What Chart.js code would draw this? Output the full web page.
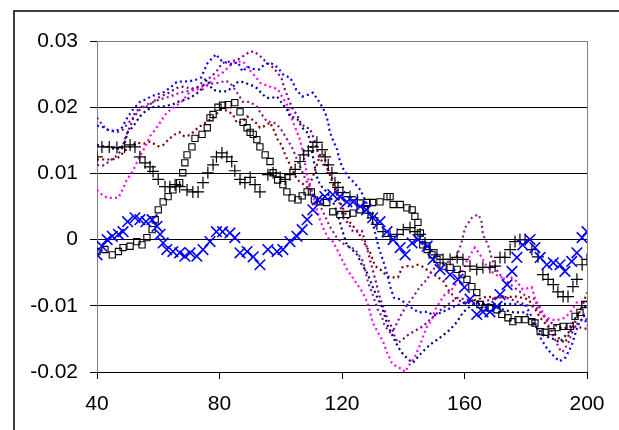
<!DOCTYPE html>
<html>
<head>
<meta charset="utf-8">
<script src="https://cdn.jsdelivr.net/npm/chart.js@4.4.0/dist/chart.umd.min.js"></script>
<style>
  html, body { margin: 0; padding: 0; background: #fff; }
  #wrap { width: 619px; height: 430px; }
</style>
</head>
<body>
<div id="wrap"><canvas id="chart" width="619" height="430"></canvas></div>
<script>
// axis ticks
const xTicks = [40, 80, 120, 160, 200];
const yTicks = [-0.02, -0.01, 0, 0.01, 0.02, 0.03];

// blue X markers
const crossX = [40,41.6,43.3,45,47,48.5,50,52.4,54,56,58,59.6,60.6,61.6,62.8,64.8,67,68.7,70.4,72.6,74.6,76.9,79,81,83.4,85,86.7,89,91,93.2,95.8,98.8,100.7,103,105.3,107,108.6,110.5,112,114.4,117,119.3,121.6,123.6,126,128,130,132.4,134.7,136.7,139,140.6,142.9,144.8,147.8,149.7,152,155.3,157.9,160,161.8,164,166,168.3,170.6,171.6,173.9,175.5,177.1,179,181.4,183,184.7,186.9,189,191.2,192.8,195,196.7,198.4,200];
const crossY = [-0.0023,-0.0010,0.0000,0.0005,0.0008,0.0012,0.0027,0.0033,0.0030,0.0027,0.0030,0.0020,0.0008,-0.0005,-0.0015,-0.0018,-0.0020,-0.0025,-0.0020,-0.0025,-0.0015,-0.0003,0.0012,0.0012,0.0010,0.0003,-0.0020,-0.0018,-0.0026,-0.0038,-0.0015,-0.0018,-0.0015,-0.0003,0.0005,0.0015,0.0030,0.0045,0.0060,0.0065,0.0068,0.0065,0.0057,0.0057,0.0050,0.0045,0.0033,0.0027,0.0012,0.0000,-0.0012,-0.0023,-0.0005,0.0000,-0.0010,-0.0030,-0.0045,-0.0053,-0.0060,-0.0072,-0.0090,-0.0113,-0.0109,-0.0109,-0.0101,-0.0083,-0.0068,-0.0048,-0.0027,-0.0008,0.0000,-0.0012,-0.0027,-0.0038,-0.0035,-0.0038,-0.0048,-0.0033,-0.0020,0.0003,0.0012];

// black plus markers
const plusX = [40,41.6,44,46.5,49,50.8,52.4,54,55.7,57.3,58.3,60,62.2,63.8,65.5,67,69.4,71.3,73,74.6,76.2,77.9,79,80.8,82.4,84,85,86.7,88.3,90,91.6,93.2,95.8,97.5,99.8,101.4,103,104.7,106.3,107.5,109,110.5,111.8,113.5,114.5,115.5,116.7,117.7,118.7,120.3,122.6,125,126.9,128.5,130,131.4,133.4,135.7,138,140,142.2,143.8,145.5,147.1,148.7,151,153,155.3,157.6,159.5,161.8,164,166,168.3,170,171.6,173.2,174.9,176.5,178.1,179.8,182,184,185.6,187.3,189,190.5,192.2,193.8,195.4,196.7,198.4,200];
const plusY = [0.0125,0.0140,0.0140,0.0139,0.0140,0.0143,0.0140,0.0125,0.0116,0.0110,0.0103,0.0091,0.0080,0.0080,0.0083,0.0080,0.0075,0.0072,0.0072,0.0086,0.0101,0.0113,0.0125,0.0131,0.0125,0.0118,0.0104,0.0091,0.0086,0.0094,0.0083,0.0072,0.0098,0.0101,0.0094,0.0091,0.0098,0.0106,0.0118,0.0128,0.0134,0.0140,0.0147,0.0136,0.0125,0.0113,0.0101,0.0086,0.0079,0.0071,0.0065,0.0060,0.0050,0.0040,0.0033,0.0023,0.0012,0.0005,0.0008,0.0015,0.0018,0.0012,0.0008,-0.0005,-0.0015,-0.0023,-0.0030,-0.0030,-0.0027,-0.0030,-0.0040,-0.0045,-0.0042,-0.0042,-0.0040,-0.0027,-0.0027,-0.0015,-0.0003,0.0000,0.0000,-0.0015,-0.0026,-0.0053,-0.0060,-0.0068,-0.0079,-0.0086,-0.0086,-0.0071,-0.0060,-0.0038,-0.0030];

// black open squares
const squareX = [40,42.6,45,47,48.5,50.8,53,54.7,56.3,58,59,60,61.6,63.2,64.8,67,68,68.7,69.4,71,72,74.3,76,76.9,77.9,79.5,81,82.8,85,86.7,87.7,89,90,91,92.2,93.2,94.9,96.5,97.5,99,100.7,102,103.7,105.6,107,108.6,110,111,112.8,115,117,119.3,121.6,123.6,125.9,128.2,130,132.4,134.7,135.7,136.7,139,141.2,142.9,143.8,144.8,145.6,146.4,147.8,149.4,151,153,155.3,157.6,159.2,160.8,162.4,164,165,166.7,168.3,170.6,172.2,174.2,175.8,177.5,179.8,182,183,184.7,186.3,188.6,190.2,192.2,194.5,196.1,197.7,199.3];
const squareY = [-0.0018,-0.0015,-0.0023,-0.0018,-0.0012,-0.0010,-0.0003,-0.0008,0.0003,0.0015,0.0030,0.0045,0.0057,0.0065,0.0075,0.0086,0.0101,0.0116,0.0128,0.0140,0.0153,0.0159,0.0169,0.0184,0.0189,0.0200,0.0203,0.0204,0.0207,0.0193,0.0177,0.0169,0.0162,0.0159,0.0151,0.0140,0.0128,0.0118,0.0101,0.0090,0.0083,0.0072,0.0063,0.0060,0.0066,0.0072,0.0072,0.0060,0.0057,0.0056,0.0042,0.0038,0.0038,0.0040,0.0045,0.0056,0.0056,0.0057,0.0065,0.0065,0.0053,0.0053,0.0048,0.0045,0.0035,0.0026,0.0010,-0.0008,-0.0015,-0.0023,-0.0030,-0.0040,-0.0042,-0.0045,-0.0053,-0.0060,-0.0071,-0.0080,-0.0098,-0.0103,-0.0103,-0.0106,-0.0113,-0.0118,-0.0124,-0.0121,-0.0121,-0.0124,-0.0126,-0.0139,-0.0140,-0.0139,-0.0133,-0.0131,-0.0131,-0.0116,-0.0110,-0.0098];

// small dot series
const blueX = [40,42,44,46,48,50,52,54,56,58,60,62,64,66,68,70,72,74,76,78,79,80,82,84,86,87.5,89,91,93,95,97,99,101,103,104,105,107,109,110.5,112,113,114.5,115.5,116,117,118.4,119,120,122,124,126,128,130,132,134,136,137,139,142,145,148,150,153,156,160,164,168,172,176,180,183,185,187,189,191,193,195,197,199,200];
const blueY = [0.0172,0.0170,0.0165,0.0164,0.0168,0.0185,0.0198,0.0208,0.0212,0.0217,0.0220,0.0223,0.0230,0.0238,0.0239,0.0239,0.0241,0.0245,0.0266,0.0276,0.0280,0.0272,0.0268,0.0265,0.0268,0.0254,0.0261,0.0258,0.0257,0.0266,0.0266,0.0260,0.0248,0.0245,0.0237,0.0227,0.0216,0.0219,0.0222,0.0212,0.0205,0.0192,0.0177,0.0163,0.0151,0.0136,0.0124,0.0110,0.0095,0.0086,0.0075,0.0055,0.0025,-0.0012,-0.0040,-0.0075,-0.0088,-0.0090,-0.0101,-0.0110,-0.0109,-0.0115,-0.0109,-0.0102,-0.0095,-0.0097,-0.0098,-0.0097,-0.0097,-0.0100,-0.0125,-0.0150,-0.0165,-0.0175,-0.0184,-0.0178,-0.0160,-0.0130,-0.0115,-0.0130];

const navyX = [40,42,44,46,48,49,50,51.8,54,56.3,59,61.6,64.5,67,70.4,73.6,75.9,77.6,79.5,82.4,84.4,85.5,87,90,91.6,92.6,93.9,95.5,97,98.8,100.7,102,103,104.7,105.6,107,108.6,109.5,110.5,111.8,112.8,115,117,118.5,120,121.6,123.3,125,126.5,128.2,130,131.4,133,134,135,136.7,138.3,139.6,141.6,143.2,145,146.4,148.7,152,155.3,157.6,159.5,161.8,164,168,172,176,180,183,186,189,191,194,196,198,200];
const navyY = [0.0143,0.0141,0.0140,0.0136,0.0139,0.0146,0.0162,0.0171,0.0186,0.0196,0.0201,0.0201,0.0204,0.0209,0.0214,0.0224,0.0242,0.0227,0.0224,0.0224,0.0231,0.0237,0.0239,0.0234,0.0231,0.0227,0.0220,0.0214,0.0214,0.0216,0.0204,0.0197,0.0186,0.0184,0.0181,0.0169,0.0162,0.0151,0.0125,0.0095,0.0083,0.0072,0.0058,0.0040,0.0015,-0.0008,-0.0015,-0.0023,-0.0038,-0.0050,-0.0071,-0.0086,-0.0101,-0.0116,-0.0131,-0.0147,-0.0162,-0.0171,-0.0181,-0.0186,-0.0176,-0.0169,-0.0159,-0.0148,-0.0136,-0.0124,-0.0110,-0.0101,-0.0095,-0.0098,-0.0105,-0.0110,-0.0110,-0.0130,-0.0145,-0.0150,-0.0155,-0.0140,-0.0120,-0.0105,-0.0100];

const magentaX = [40,41.6,43.3,45,46.9,48,49.8,51.4,53,54.5,55.7,57.3,59,60.6,62.8,65.5,67.8,69.7,72,74.6,76.9,79,81,82.8,84.4,86,87.7,89,90.6,92,93.2,94.9,96.5,99.1,100.4,102,103,103.7,105,106.3,107.5,108.6,110,111,112.8,113.8,115.4,117,118.4,120,121.6,123.3,125,126.5,128.2,129.2,130,131.7,133.4,135,136.3,138,139.6,140.6,141.6,143.8,145.5,146.4,147.8,149.4,150.4,152,153.6,155.3,157,159,161,163.4,165,167,169.3,171.6,174.9,177,179,182,183.7,185.6,188,190,192.8,194.5,196.7,200];
const magentaY = [0.0075,0.0068,0.0063,0.0063,0.0063,0.0072,0.0091,0.0101,0.0116,0.0130,0.0140,0.0156,0.0166,0.0177,0.0192,0.0201,0.0209,0.0220,0.0227,0.0227,0.0237,0.0246,0.0252,0.0260,0.0267,0.0269,0.0269,0.0261,0.0252,0.0245,0.0237,0.0234,0.0231,0.0227,0.0216,0.0204,0.0192,0.0181,0.0166,0.0151,0.0125,0.0098,0.0075,0.0057,0.0030,0.0018,0.0003,-0.0003,-0.0015,-0.0030,-0.0045,-0.0056,-0.0068,-0.0078,-0.0094,-0.0110,-0.0125,-0.0140,-0.0154,-0.0174,-0.0186,-0.0193,-0.0195,-0.0200,-0.0192,-0.0177,-0.0159,-0.0147,-0.0131,-0.0121,-0.0106,-0.0094,-0.0083,-0.0079,-0.0068,-0.0050,-0.0030,-0.0012,-0.0022,-0.0038,-0.0050,-0.0057,-0.0056,-0.0063,-0.0075,-0.0072,-0.0101,-0.0113,-0.0121,-0.0122,-0.0118,-0.0110,-0.0095,-0.0094];

const purpleX = [40,42,44,46,48,49,50,51.4,52.4,54.7,56.5,58,60.6,62.8,66,68,71,73,75.3,77,79,81,83.4,86,88.3,90,91.5,92.6,93.9,95,97,99,100.4,101,102,103,104,105.3,106.3,108,109.5,111,112.5,114,115,117,118.4,119.5,120.3,122,123.6,125,126.5,128,130,132.4,134.5,136.3,137.3,138.3,140,141.6,143,146.4,149.4,153,155.5,157.6,160,163,166,169,172,175,178,181,183,186,188,190,192,195,198,200];
const purpleY = [0.0113,0.0112,0.0118,0.0125,0.0135,0.0150,0.0163,0.0177,0.0192,0.0201,0.0201,0.0207,0.0216,0.0220,0.0229,0.0231,0.0228,0.0231,0.0242,0.0245,0.0254,0.0267,0.0269,0.0272,0.0279,0.0284,0.0284,0.0279,0.0275,0.0269,0.0262,0.0252,0.0242,0.0231,0.0219,0.0207,0.0196,0.0189,0.0178,0.0169,0.0168,0.0150,0.0125,0.0115,0.0109,0.0090,0.0071,0.0050,0.0033,0.0025,0.0012,0.0012,0.0013,-0.0010,-0.0045,-0.0088,-0.0115,-0.0133,-0.0148,-0.0156,-0.0150,-0.0144,-0.0140,-0.0131,-0.0118,-0.0103,-0.0095,-0.0088,-0.0090,-0.0092,-0.0094,-0.0090,-0.0085,-0.0090,-0.0095,-0.0100,-0.0101,-0.0116,-0.0125,-0.0130,-0.0135,-0.0130,-0.0133,-0.0135];

const plumX = [40,42,43.3,46.5,48.5,50,52,54,56.3,58,60.6,63.8,67,69.4,72,75,78,80,82,83.4,85,87.7,90,92.2,93.2,95.5,97.5,99.8,100.7,103.7,105.6,108,110,112,114,116,118,120,122,124.3,126.9,128.5,129.8,130.8,131.7,133,134,135.7,137,139,141,143,145.5,147.8,149.7,152,155,157.5,159,160.2,162.4,164.4,165.5,166,167.7,169,171,173,175,177,180,183,185,187,189,191,192,194,196,198,200];
const plumY = [0.0184,0.0172,0.0166,0.0162,0.0166,0.0175,0.0185,0.0196,0.0204,0.0207,0.0212,0.0216,0.0222,0.0224,0.0229,0.0232,0.0236,0.0237,0.0240,0.0237,0.0227,0.0208,0.0208,0.0201,0.0193,0.0178,0.0178,0.0169,0.0162,0.0139,0.0118,0.0092,0.0075,0.0060,0.0040,0.0020,0.0005,-0.0005,-0.0010,-0.0015,-0.0033,-0.0065,-0.0080,-0.0094,-0.0106,-0.0116,-0.0131,-0.0140,-0.0135,-0.0116,-0.0100,-0.0088,-0.0071,-0.0060,-0.0045,-0.0038,-0.0033,-0.0025,-0.0005,0.0018,0.0033,0.0038,0.0030,0.0008,-0.0008,-0.0030,-0.0050,-0.0060,-0.0068,-0.0075,-0.0085,-0.0090,-0.0105,-0.0125,-0.0145,-0.0165,-0.0170,-0.0155,-0.0130,-0.0122,-0.0120];

const maroonX = [40,42.6,45,46.9,48.5,50,51.4,53.4,55.5,57.3,60,61.6,63.5,65.5,67,68.5,70.5,72,73.6,75.5,77.9,80.2,82.4,84.4,85.7,87.5,89,90.5,92.2,93.2,95,96.5,98.1,99.1,100.4,101.4,103,104.5,105.5,107,108.9,110.5,111.8,113,114,115.5,117,118.5,120,122.6,125.2,127,129.2,130.8,132.5,134,135.5,137,138.3,139.6,141.5,143.2,144.8,146.4,148.5,151,153,155,157.6,160,163,167.4,170,173,177,180.7,182.5,184.7,187,189,191.2,192.8,194.5,196.5,198.4,200];
const maroonY = [0.0121,0.0121,0.0121,0.0124,0.0131,0.0138,0.0143,0.0146,0.0145,0.0148,0.0141,0.0143,0.0152,0.0159,0.0162,0.0156,0.0158,0.0165,0.0171,0.0177,0.0184,0.0196,0.0195,0.0189,0.0176,0.0178,0.0186,0.0182,0.0175,0.0169,0.0172,0.0177,0.0162,0.0150,0.0142,0.0128,0.0113,0.0098,0.0090,0.0085,0.0078,0.0095,0.0113,0.0130,0.0128,0.0105,0.0085,0.0065,0.0050,0.0026,0.0012,-0.0003,-0.0020,-0.0040,-0.0045,-0.0052,-0.0057,-0.0057,-0.0057,-0.0042,-0.0040,-0.0041,-0.0038,-0.0041,-0.0048,-0.0056,-0.0062,-0.0078,-0.0091,-0.0095,-0.0092,-0.0086,-0.0088,-0.0087,-0.0086,-0.0090,-0.0100,-0.0118,-0.0130,-0.0140,-0.0151,-0.0156,-0.0140,-0.0120,-0.0101,-0.0080];

const font = { family: "'Liberation Sans', Arial, sans-serif", size: 21 };

function pts(xs, ys) {
    return xs.map((x, i) => ({ x: x, y: ys[i] }));
}

// excel-like small dots, drawn as a dashed path through the points
function dotted(label, xs, ys, color) {
    return {
        label: label,
        data: pts(xs, ys),
        showLine: true,
        borderColor: color,
        borderWidth: 2.2,
        borderDash: [2, 3.2],
        pointRadius: 0,
        fill: false
    };
}

// outer chart frame (left and top edges visible)
const framePlugin = {
    id: "frame",
    beforeDraw(chart) {
        const c = chart.ctx;
        c.save();
        c.fillStyle = "#fff";
        c.fillRect(0, 0, chart.width, chart.height);
        c.strokeStyle = "#000";
        c.lineWidth = 1.5;
        c.beginPath();
        c.moveTo(14, 430);
        c.lineTo(14, 11);
        c.lineTo(619, 11);
        c.stroke();
        c.restore();
    }
};

var ctx = document.getElementById("chart").getContext("2d");
new Chart(ctx, {
    type: "scatter",
    data: {
        datasets: [
            {
                label: "x",
                data: pts(crossX, crossY),
                pointStyle: "crossRot",
                pointRadius: 7.5,
                borderColor: "#0000FF",
                borderWidth: 1.6
            },
            {
                label: "plus",
                data: pts(plusX, plusY),
                pointStyle: "cross",
                pointRadius: 6,
                borderColor: "#000",
                borderWidth: 1.2
            },
            {
                label: "square",
                data: pts(squareX, squareY),
                pointStyle: "rect",
                pointRadius: 4.4,
                borderColor: "#000",
                backgroundColor: "rgba(0,0,0,0)",
                borderWidth: 1.1
            },
            dotted("blue", blueX, blueY, "#0000FF"),
            dotted("navy", navyX, navyY, "#000080"),
            dotted("magenta", magentaX, magentaY, "#FF00FF"),
            dotted("purple", purpleX, purpleY, "#800080"),
            dotted("plum", plumX, plumY, "#8B1A8B"),
            dotted("maroon", maroonX, maroonY, "#800000")
        ]
    },
    options: {
        responsive: false,
        devicePixelRatio: 1,
        animation: false,
        layout: { padding: { left: 0, right: 32, top: 41, bottom: 0 } },
        plugins: { legend: { display: false }, tooltip: { enabled: false } },
        scales: {
            x: {
                type: "linear",
                min: xTicks[0],
                max: xTicks[xTicks.length - 1],
                afterBuildTicks: s => { s.ticks = xTicks.map(v => ({ value: v })); },
                afterFit: s => { s.height = 58; },
                ticks: { color: "#000", font: font, padding: 13, maxRotation: 0 },
                grid: {
                    color: c => (c.tick && c.tick.value === 200) ? "#808080" : "rgba(0,0,0,0)",
                    tickColor: "#000",
                    tickLength: 7
                },
                border: { color: "#000", width: 1 }
            },
            y: {
                min: yTicks[0],
                max: yTicks[yTicks.length - 1],
                afterBuildTicks: s => { s.ticks = yTicks.map(v => ({ value: v })); },
                afterFit: s => { s.width = 97; },
                ticks: {
                    color: "#000",
                    font: font,
                    padding: 12,
                    callback: v => {
                        const r = Math.round(v * 100) / 100;
                        return r === 0 ? "0" : r.toFixed(2);
                    }
                },
                grid: {
                    color: c => (c.tick && c.tick.value > 0.029) ? "#808080" : "#000",
                    tickColor: "#000",
                    tickLength: 7
                },
                border: { color: "#808080", width: 1 }
            }
        }
    },
    plugins: [framePlugin]
});
</script>
</body>
</html>
